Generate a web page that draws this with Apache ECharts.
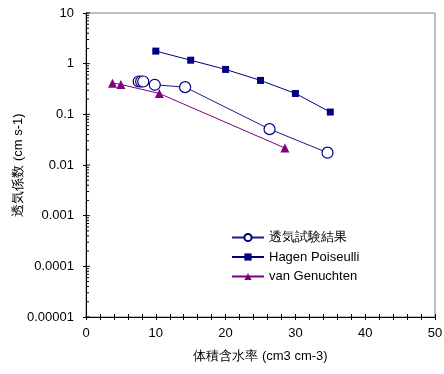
<!DOCTYPE html>
<html><head><meta charset="utf-8">
<script src="https://cdn.jsdelivr.net/npm/echarts@6/dist/echarts.min.js"></script>
<style>html,body{margin:0;padding:0;background:#fff}#c{width:444px;height:374px}</style>
</head><body><div id="c"></div>
<script>
var seriesNames = ['透気試験結果', 'Hagen Poiseulli', 'van Genuchten'];
var testX = [7.55, 7.9, 8.2, 9.85, 14.2, 26.3, 34.6];
var testY = [0.445, 0.445, 0.445, 0.383, 0.344, 0.051, 0.0175];
var hpX = [10, 15, 20, 25, 30, 35];
var hpY = [1.77, 1.17, 0.77, 0.467, 0.258, 0.111];
var vgX = [3.8, 5.0, 10.5, 28.5];
var vgY = [0.413, 0.389, 0.258, 0.0216];
var yTickLabels = ['0.00001', '0.0001', '0.001', '0.01', '0.1', '1', '10'];
var xTickLabels = ['0', '10', '20', '30', '40', '50'];

var minorTickValues = [];
for (var k = -5; k <= 0; k++) {
  for (var m = 1; m <= 9; m++) minorTickValues.push(m * Math.pow(10, k));
}
minorTickValues.push(10);

function pairs(xs, ys) { return xs.map(function (x, i) { return [x, ys[i]]; }); }

var font = 'Liberation Sans, Arial, sans-serif';
var chart = echarts.init(document.getElementById('c'));
chart.setOption({
  animation: false,
  backgroundColor: '#fff',
  grid: { left: 86, right: 9, top: 13, bottom: 57, show: true, borderColor: '#808080', borderWidth: 1,
    containLabel: false, outerBoundsMode: 'none' },
  legend: {
    data: seriesNames,
    orient: 'vertical',
    left: 226, top: 226,
    itemWidth: 32, itemHeight: 9, itemGap: 6.5,
    textStyle: { fontFamily: font, fontSize: 13, color: '#000' }
  },
  xAxis: [{
    type: 'value', min: 0, max: 50, interval: 10,
    name: '体積含水率 (cm3 cm-3)', nameLocation: 'middle', nameGap: 33, nameMoveOverlap: false,
    nameTextStyle: { fontFamily: font, fontSize: 13, color: '#000' },
    axisLine: { lineStyle: { color: '#000', width: 1 } },
    axisTick: { show: true, inside: false, length: 3, lineStyle: { color: '#000' } },
    minorTick: { show: true, splitNumber: 5, length: 3, lineStyle: { color: '#000' } },
    splitLine: { show: false },
    axisLabel: { fontFamily: font, fontSize: 13, color: '#000', margin: 10,
      formatter: function (v) { return xTickLabels[Math.round(v / 10)]; } }
  }, {
    type: 'value', min: 0, max: 50, interval: 10, position: 'bottom',
    axisLine: { show: false },
    axisTick: { show: true, inside: true, length: 3, lineStyle: { color: '#000' } },
    minorTick: { show: true, splitNumber: 5, length: 3, lineStyle: { color: '#000' } },
    splitLine: { show: false }, axisLabel: { show: false }
  }],
  yAxis: {
    type: 'log', logBase: 10, min: 0.00001, max: 10,
    name: '透気係数 (cm s-1)', nameLocation: 'middle', nameGap: 61, nameRotate: 90, nameMoveOverlap: false,
    nameTextStyle: { fontFamily: font, fontSize: 13, color: '#000' },
    axisLine: { show: true, lineStyle: { color: '#000', width: 1 } },
    axisTick: { show: true, inside: false, length: 3, lineStyle: { color: '#000' } },
    splitLine: { show: false },
    axisLabel: { fontFamily: font, fontSize: 13, color: '#000', margin: 12,
      formatter: function (v) { return yTickLabels[Math.round(Math.log10(v)) + 5]; } }
  },
  series: [{
    type: 'custom', silent: true, xAxisIndex: 0,
    data: minorTickValues.map(function (v) { return [0, v]; }),
    renderItem: function (params, api) {
      var p = api.coord([0, api.value(1)]);
      var v = api.value(1);
      var major = Math.abs(Math.log10(v) - Math.round(Math.log10(v))) < 1e-6;
      return { type: 'line', shape: { x1: p[0], y1: p[1], x2: p[0] + (major ? 4 : 3), y2: p[1] },
        style: { stroke: '#000', lineWidth: 1 } };
    }
  }, {
    name: seriesNames[0], type: 'line', data: pairs(testX, testY),
    symbol: 'circle', symbolSize: 11, z: 3,
    itemStyle: { color: '#fff', borderColor: '#000080', borderWidth: 1.2 },
    lineStyle: { color: '#1a1a8c', width: 1 }
  }, {
    name: seriesNames[1], type: 'line', data: pairs(hpX, hpY),
    symbol: 'rect', symbolSize: 7, z: 3,
    itemStyle: { color: '#000080' },
    lineStyle: { color: '#000080', width: 1 }
  }, {
    name: seriesNames[2], type: 'line', data: pairs(vgX, vgY),
    symbol: 'triangle', symbolSize: 9, z: 3,
    itemStyle: { color: '#800080' },
    lineStyle: { color: '#800080', width: 1 }
  }]
});
</script></body></html>
